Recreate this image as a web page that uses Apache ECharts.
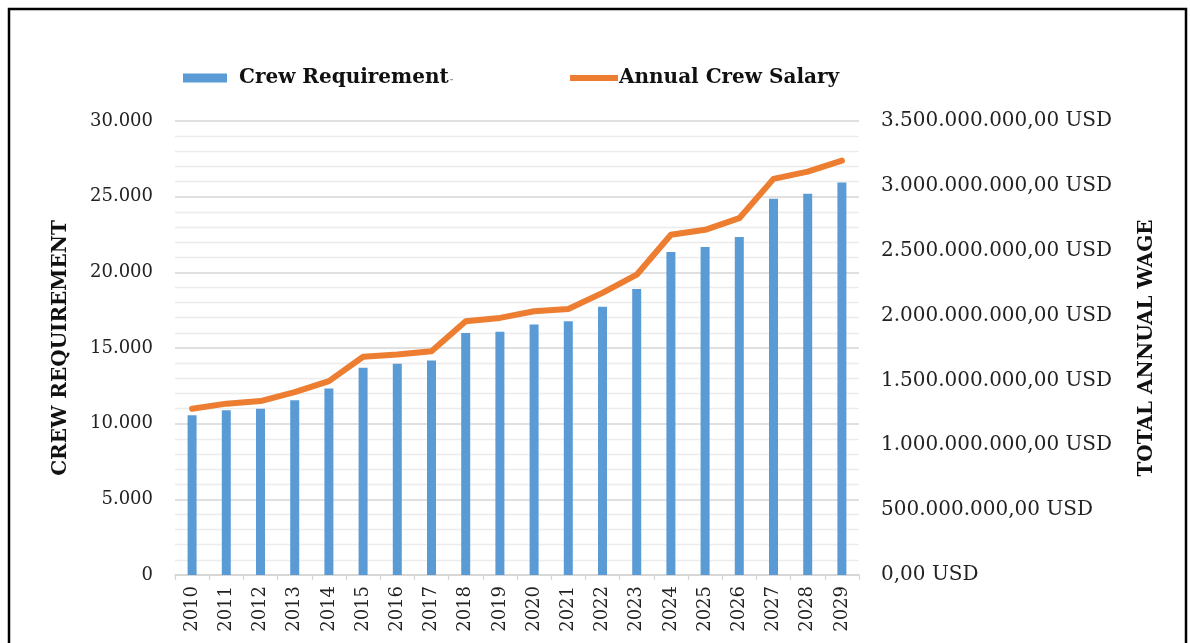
<!DOCTYPE html>
<html>
<head>
<meta charset="utf-8">
<script src="https://cdn.jsdelivr.net/npm/echarts@6/dist/echarts.min.js"></script>
<style>
  html, body { margin: 0; padding: 0; background: #ffffff; }
  #chart { width: 1190px; height: 643px; }
</style>
</head>
<body>
<div id="chart"></div>
<script>
// Years on the category axis
const years = ['2010','2011','2012','2013','2014','2015','2016','2017','2018','2019',
               '2020','2021','2022','2023','2024','2025','2026','2027','2028','2029'];

// Number of crew members required per year
const crewRequirement = [10550, 10880, 10990, 11540, 12330, 13690, 13960, 14180, 15990, 16070,
                         16550, 16770, 17720, 18900, 21340, 21670, 22330, 24860, 25190, 25930];

// Total yearly wage bill for the crew, in USD
const annualCrewSalary = [1282e6, 1321e6, 1341e6, 1410e6, 1495e6, 1682e6, 1700e6, 1725e6, 1956e6, 1982e6,
                          2033e6, 2051e6, 2175e6, 2315e6, 2623e6, 2661e6, 2751e6, 3054e6, 3110e6, 3195e6];

const seriesNames = ['Crew Requirement', 'Annual Crew Salary'];
const axisTitles = ['CREW REQUIREMENT', 'TOTAL ANNUAL WAGE'];

const FONT = 'DejaVu Serif';
const BLUE = '#5b9bd5';
const ORANGE = '#ed7d31';

// European style thousands separator: 30000 -> "30.000"
function groupThousands(intStr) {
  return intStr.replace(/\B(?=(\d{3})+(?!\d))/g, '.');
}
function crewFmt(v) { return groupThousands(String(Math.round(v))); }
function usdFmt(v) { return groupThousands(String(Math.round(v))) + ',00 USD'; }

const chart = echarts.init(document.getElementById('chart'), null, { renderer: 'canvas' });

chart.setOption({
  backgroundColor: '#ffffff',
  animation: false,
  graphic: [{
    type: 'rect',
    silent: true,
    shape: { x: 9, y: 9, width: 1177, height: 700 },
    style: { fill: 'none', stroke: '#000000', lineWidth: 2.5 }
  }],
  legend: [{
    data: [seriesNames[0]],
    left: 178,
    top: 63,
    icon: 'rect',
    itemWidth: 44,
    itemHeight: 9,
    formatter: function (n) { return n + '{d|-}'; },
    textStyle: {
      fontFamily: FONT, fontWeight: 'bold', fontSize: 20, color: '#111111',
      padding: [0, 0, 0, 7],
      rich: { d: { fontFamily: FONT, fontSize: 9, color: '#9a9a9a', padding: [4, 0, 0, 1] } }
    }
  }, {
    data: [seriesNames[1]],
    left: 565,
    top: 63,
    icon: 'rect',
    itemWidth: 48,
    itemHeight: 6,
    textStyle: { fontFamily: FONT, fontWeight: 'bold', fontSize: 20, color: '#111111', padding: [0, 0, 0, -4] }
  }],
  grid: { left: 175, right: 331, top: 121, bottom: 68, containLabel: false },
  xAxis: {
    type: 'category',
    data: years,
    boundaryGap: true,
    axisLine: { lineStyle: { color: '#d4d4d4', width: 1.5 } },
    axisTick: { show: true, length: 5, lineStyle: { color: '#d4d4d4', width: 1.2 } },
    axisLabel: { rotate: 90, margin: 11, fontFamily: FONT, fontSize: 18, color: '#222222', interval: 0 }
  },
  yAxis: [{
    type: 'value',
    min: 0, max: 30000, interval: 5000,
    name: axisTitles[0],
    nameLocation: 'middle',
    nameRotate: 90,
    nameGap: 104,
    nameTextStyle: { fontFamily: FONT, fontWeight: 'bold', fontSize: 20, color: '#111111' },
    axisLine: { show: false },
    axisTick: { show: false },
    axisLabel: { margin: 22, fontFamily: FONT, fontSize: 18, color: '#222222', formatter: crewFmt },
    splitLine: { show: true, lineStyle: { color: '#d6d6d6', width: 1.6 } },
    minorTick: { show: false, splitNumber: 5 },
    minorSplitLine: { show: true, lineStyle: { color: '#ececec', width: 1.4 } }
  }, {
    type: 'value',
    min: 0, max: 3500000000, interval: 500000000,
    name: axisTitles[1],
    nameLocation: 'middle',
    nameRotate: 90,
    nameGap: 278,
    nameTextStyle: { fontFamily: FONT, fontWeight: 'bold', fontSize: 20, color: '#111111' },
    axisLine: { show: false },
    axisTick: { show: false },
    axisLabel: { margin: 22, fontFamily: FONT, fontSize: 20, color: '#222222', formatter: usdFmt },
    splitLine: { show: false }
  }],
  series: [{
    name: seriesNames[0],
    type: 'bar',
    yAxisIndex: 0,
    data: crewRequirement,
    barWidth: 9,
    itemStyle: { color: BLUE }
  }, {
    name: seriesNames[1],
    type: 'line',
    yAxisIndex: 1,
    data: annualCrewSalary,
    symbol: 'none',
    lineStyle: { color: ORANGE, width: 6, join: 'round', cap: 'round' },
    itemStyle: { color: ORANGE }
  }]
});
</script>
</body>
</html>
